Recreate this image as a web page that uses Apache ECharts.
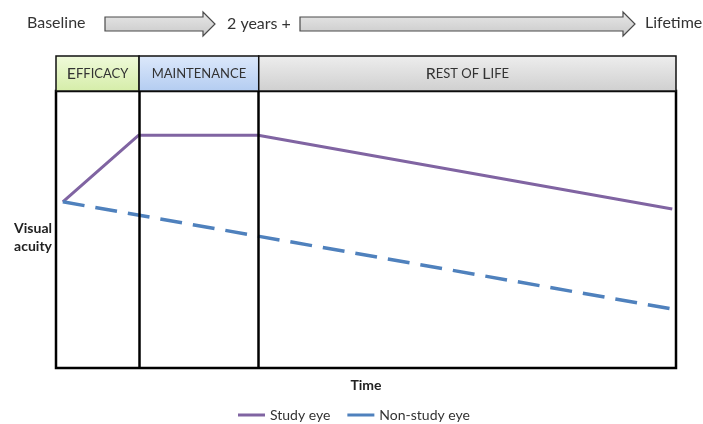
<!DOCTYPE html>
<html>
<head>
<meta charset="utf-8">
<script src="https://cdn.jsdelivr.net/npm/echarts@6/dist/echarts.min.js"></script>
<style>html,body{margin:0;padding:0;background:#fff}#c{width:703px;height:424px}</style>
</head>
<body>
<div id="c"></div>
<script>
// ---- data ----
var studyX = [1.1, 13.3, 32.6, 99.4];
var studyEye = [60, 84, 84, 57.4];
var nonStudyX = [1.1, 99.4];
var nonStudyEye = [60, 21.3];
var phaseBounds = [0, 13.4, 32.7, 100];
var phaseLabels = ['{big|E}{small|FFICACY}', '{small|MAINTENANCE}', '{big|R}{small|EST OF }{big|L}{small|IFE}'];
var timelineLabels = ['Baseline', '2 years +', 'Lifetime'];
var seriesNames = ['Study eye', 'Non-study eye'];
var yAxisTitle = 'Visual\nacuity';

var FONT = 'Lato';
var chart = echarts.init(document.getElementById('c'));

function grad(a, b) {
  return new echarts.graphic.LinearGradient(0, 0, 0, 1, [{offset: 0, color: a}, {offset: 1, color: b}]);
}
var phaseColors = [grad('#f0fadb', '#d5eda8'), grad('#dde9fb', '#b3ccf1'), grad('#eeeeee', '#cfcfcf')];

var markAreaData = phaseLabels.map(function (lab, i) {
  return [{xAxis: phaseBounds[i], name: lab, itemStyle: {color: phaseColors[i]}}, {xAxis: phaseBounds[i + 1]}];
});

var arrowFill = grad('#e8e8e8', '#c9c9c9');
function arrow(x0, x1, x2) {
  return {
    type: 'polygon',
    shape: {points: [[x0, 17], [x1, 17], [x1, 12], [x2, 24], [x1, 36], [x1, 31], [x0, 31]]},
    style: {fill: arrowFill, stroke: '#4a4a4a', lineWidth: 1.2}
  };
}
var colors = ['#8064a2', '#4f81bd'];

var option = {
  animation: false,
  backgroundColor: '#fff',
  textStyle: {fontFamily: FONT},
  grid: [
    {left: 56, right: 27, top: 91, bottom: 56, show: true, borderColor: '#000', borderWidth: 2.5, backgroundColor: 'transparent'},
    {left: 56, right: 27, top: 56, height: 35}
  ],
  xAxis: [
    {type: 'value', gridIndex: 0, min: 0, max: 100, axisLine: {show: false}, axisTick: {show: false}, axisLabel: {show: false}, splitLine: {show: false},
     name: 'Time', nameLocation: 'middle', nameGap: 10, nameTextStyle: {fontFamily: FONT, fontSize: 14, fontWeight: 'bold', color: '#222'}},
    {type: 'value', gridIndex: 1, min: 0, max: 100, show: false}
  ],
  yAxis: [
    {type: 'value', gridIndex: 0, min: 0, max: 100, axisLine: {show: false}, axisTick: {show: false}, axisLabel: {show: false}, splitLine: {show: false}},
    {type: 'value', gridIndex: 1, min: 0, max: 1, show: false}
  ],
  legend: {
    data: seriesNames.map(function (n, i) {
      return {name: n, itemStyle: {color: colors[i], borderWidth: 0}};
    }),
    left: 233, top: 403,
    itemWidth: 27, itemHeight: 3, itemGap: 17,
    icon: 'rect',
    textStyle: {fontFamily: FONT, fontSize: 14, color: '#333'}
  },
  series: [
    {
      name: seriesNames[0], type: 'line', xAxisIndex: 0, yAxisIndex: 0,
      data: studyX.map(function (x, i) { return [x, studyEye[i]]; }),
      showSymbol: false, symbol: 'none', color: colors[0],
      lineStyle: {color: colors[0], width: 3},
      z: 3,
      markLine: {
        silent: true, symbol: 'none', label: {show: false},
        lineStyle: {color: '#000', width: 2.5, type: 'solid'},
        data: [{xAxis: phaseBounds[1]}, {xAxis: phaseBounds[2]}]
      }
    },
    {
      name: seriesNames[1], type: 'line', xAxisIndex: 0, yAxisIndex: 0,
      data: nonStudyX.map(function (x, i) { return [x, nonStudyEye[i]]; }),
      showSymbol: false, symbol: 'none', color: colors[1],
      lineStyle: {color: colors[1], width: 3.5, type: [22, 11]},
      z: 3
    },
    {
      name: 'phases', type: 'line', xAxisIndex: 1, yAxisIndex: 1, data: [],
      markArea: {
        silent: true,
        itemStyle: {borderColor: '#111', borderWidth: 1.5},
        label: {
          show: true, position: 'inside', formatter: function (p) { return p.name; },
          rich: {
            big: {fontFamily: FONT, fontSize: 16, color: '#333'},
            small: {fontFamily: FONT, fontSize: 13, color: '#333'}
          }
        },
        data: markAreaData
      }
    }
  ],
  graphic: [
    arrow(105, 203, 215),
    arrow(300, 623, 635),
    {type: 'text', left: 27, top: 15, style: {text: timelineLabels[0], font: '16px ' + FONT, fill: '#333'}},
    {type: 'text', left: 227, top: 16, style: {text: timelineLabels[1], font: '16px ' + FONT, fill: '#333'}},
    {type: 'text', left: 645, top: 15, style: {text: timelineLabels[2], font: '16px ' + FONT, fill: '#333'}},
    {type: 'text', x: 52, y: 237, style: {text: yAxisTitle, font: 'bold 14px ' + FONT, fill: '#222', align: 'right', verticalAlign: 'middle', lineHeight: 18}}
  ]
};
chart.setOption(option);
</script>
</body>
</html>
